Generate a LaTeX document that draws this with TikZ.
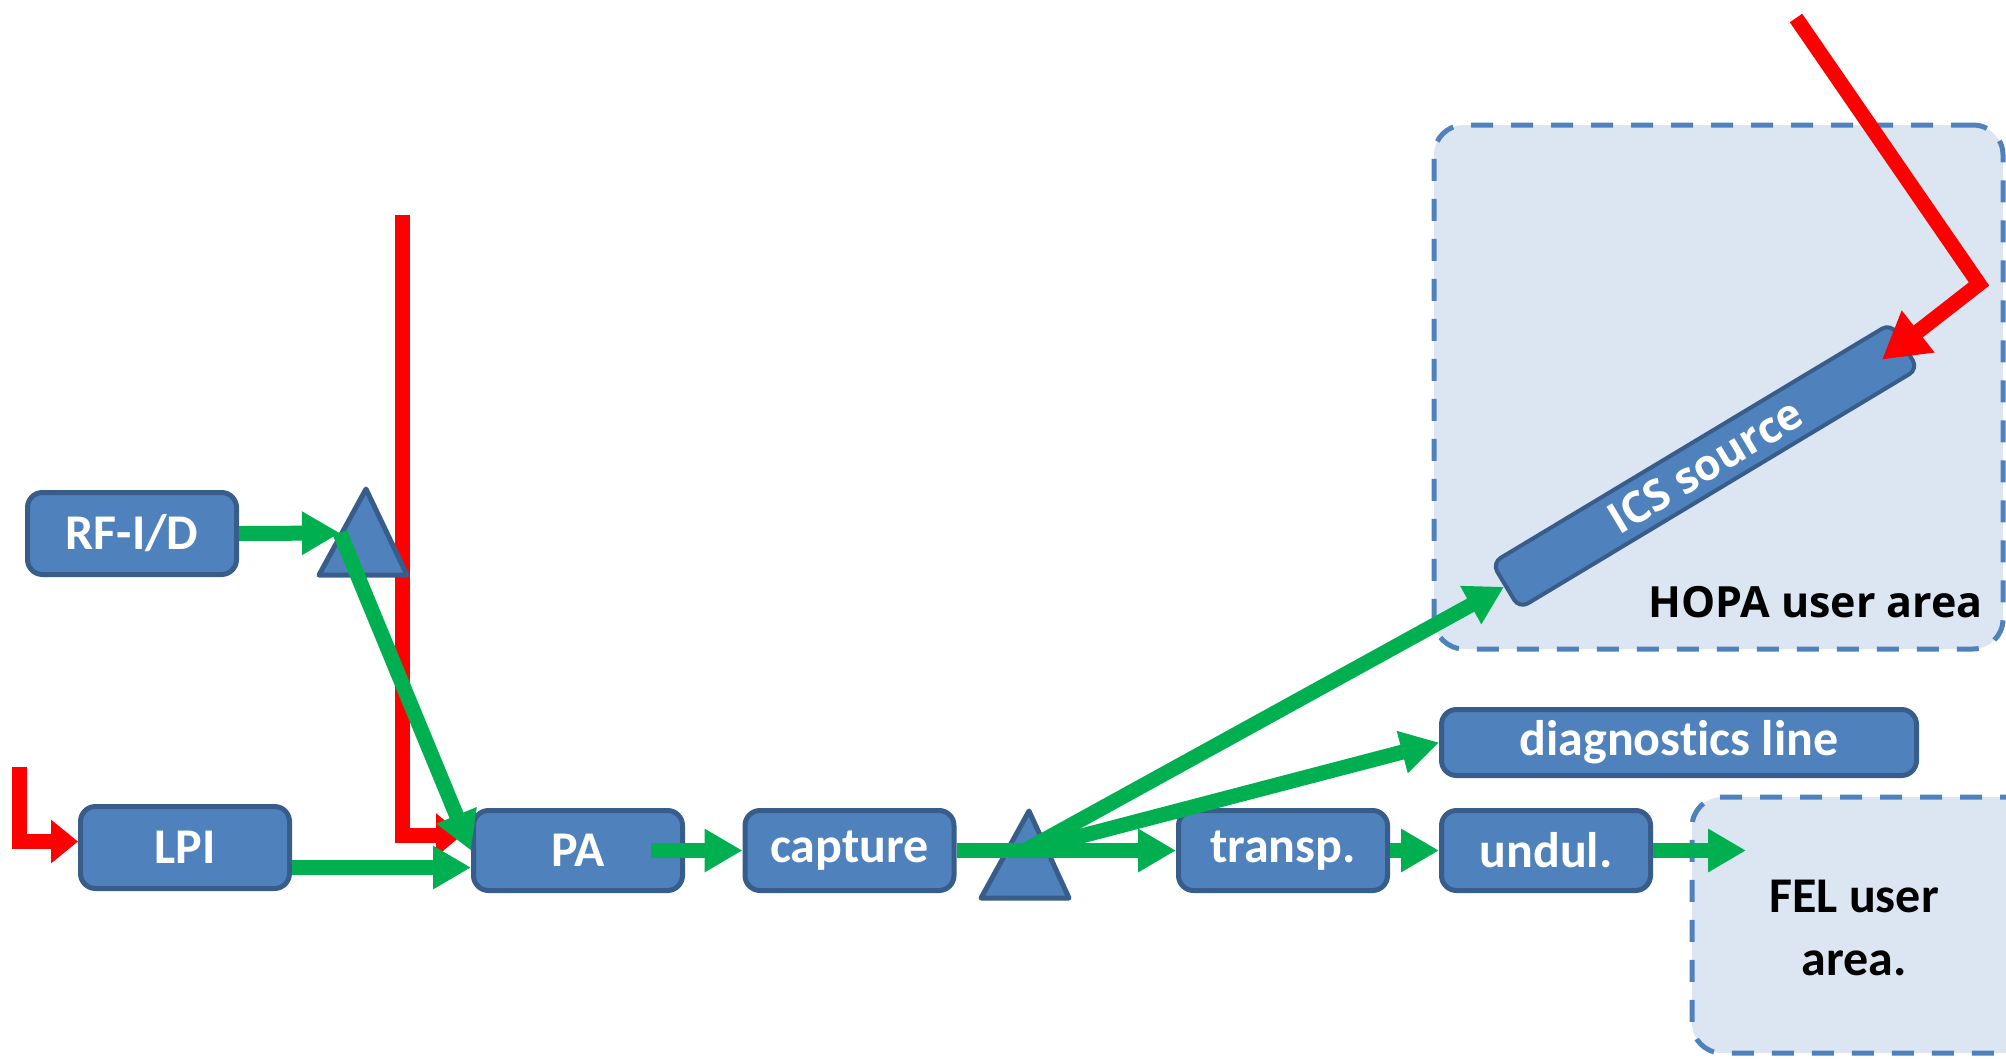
\documentclass[tikz,border=0pt]{standalone}
\usepackage{fontspec}
\setmainfont{Carlito}[Ligatures=NoCommon]
\newfontfamily\osans{Open Sans}
\usetikzlibrary{arrows.meta,calc}
\definecolor{boxblue}{HTML}{4F81BD}
\definecolor{boxedge}{HTML}{385D8A}
\definecolor{lgreen}{HTML}{00B050}
\definecolor{lred}{HTML}{FF0000}
\definecolor{areafill}{HTML}{DCE6F2}
\definecolor{areaedge}{HTML}{4F81BD}
\begin{document}
\begin{tikzpicture}[x=1pt,y=-1pt,
  blk/.style={draw=boxedge, fill=boxblue, line width=5pt, rounded corners=15pt, text=white,
    font=\bfseries\fontsize{50}{60}\selectfont, inner sep=0pt, minimum width=209pt, minimum height=82pt},
  tri/.style={draw=boxedge, fill=boxblue, line width=5pt, line join=round},
  area/.style={draw=areaedge, fill=areafill, line width=5pt, dash pattern=on 22pt off 18pt,
    rounded corners=30pt, inner sep=0pt},
  gline/.style={draw=lgreen, line width=15pt, -{Triangle[length=38pt,width=41pt]}},
  rline/.style={draw=lred, line width=15pt},
]
\useasboundingbox (0,0) rectangle (2006,1058);
\clip (0,0) rectangle (2006,1058);
% areas
\node[area, minimum width=569pt, minimum height=524pt] (hopa) at (1718.5,387) {};
\node[area, minimum width=400pt, minimum height=256pt] (fel) at (1892,925) {};
% red line to PA (behind)
\coordinate (rtop) at (402,215);
\coordinate (rtip) at (462,835);
\draw[rline, -{Triangle[length=26pt,width=42pt]}] (rtop) |- (rtip);
% boxes
\node[blk] (rf) at (132,533.5) {RF-I/D};
\node[blk] (lpi) at (185,847.5) {LPI};
\node[blk, minimum height=80pt] (pa) at (578,850.5) {PA};
\node[blk, minimum height=80pt] (cap) at (849.5,850.5) {capture};
\node[blk, minimum height=80pt] (tr) at (1283,850.5) {transp.};
\node[blk, minimum height=80pt] (un) at (1546,850.5) {undul.};
\node[blk, minimum width=475pt, minimum height=66pt] (diag) at (1679,742.5) {diagnost\kern0pt ics line};
\node[blk, line width=4pt, minimum width=465pt, minimum height=53pt, rotate=31, rounded corners=10pt,
  font=\osans\bfseries\fontsize{43}{50}\selectfont] (ics) at (1705,466) {ICS source};
% triangles
\draw[tri] (319,575) -- (366,489) -- (407,575) -- cycle;
\draw[tri] (981,898) -- (1029,811) -- (1069,898) -- cycle;
% red lines
\coordinate (rl) at (19.5,767);
\draw[rline, -{Triangle[length=27pt,width=42pt]}] (rl) |- ([yshift=6pt]lpi.west);
\coordinate (rs) at (1796,18);
\coordinate (rc) at (1979,284);
\draw[rline, -{Triangle[length=46pt,width=50pt]}] (rs) -- (rc) -- ($(ics.center)!0.88!(ics.east)$);
% green lines
\coordinate (t1) at (340,533);
\coordinate (t2) at (1024,851);
\coordinate (felin) at (1746,850.5);
\draw[gline] (rf.east) -- (t1);
\draw[gline] (t1) -- (pa.west);
\draw[gline] ([yshift=-20pt]lpi.east) -- ([yshift=-17pt]pa.west);
\draw[gline] ([xshift=73pt]pa.center) -- (cap.west);
\draw[gline] (cap.east) -- (tr.west);
\draw[gline] (t2) -- (ics.west);
\draw[gline] (t2) -- (diag.west);
\draw[gline] (tr.east) -- (un.west);
\draw[gline] (un.east) -- (felin);
% labels
\node[anchor=base east, font=\osans\bfseries\fontsize{43}{50}\selectfont, inner sep=0pt] (hopalbl) at (1983,617) {HOPA user area};
\node[font=\bfseries\fontsize{50}{63}\selectfont, align=center, inner sep=0pt] (fellbl) at (1854,928) {FEL user\\area.};
\end{tikzpicture}
\end{document}
